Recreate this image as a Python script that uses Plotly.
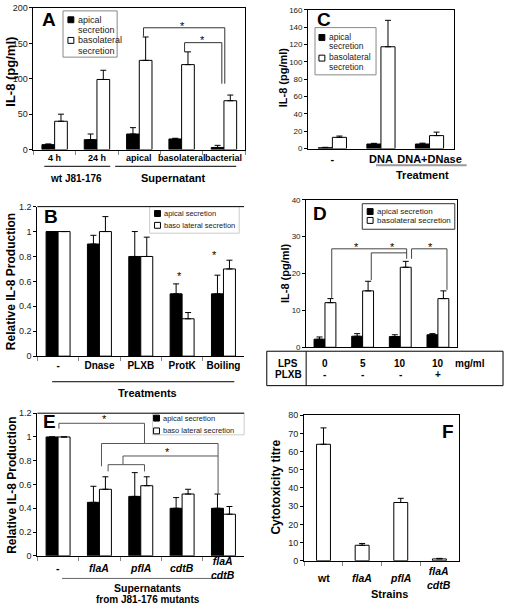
import plotly.graph_objects as go

W, H = 512, 610
FONT = "Arial, Liberation Sans, sans-serif"

# ---------------- data ----------------
A_categories = ["4 h", "24 h", "apical", "basolateral", "bacterial"]
A_apical = [7, 14, 22, 15, 3]
A_apical_err = [1, 8, 9, 1, 3]
A_baso = [40, 99, 126, 120, 69]
A_baso_err = [10, 13, 33, 18, 8]

B_categories = ["-", "Dnase", "PLXB", "ProtK", "Boiling"]
B_apical = [1.0, 0.9, 0.8, 0.5, 0.5]
B_apical_err = [0, 0.07, 0.2, 0.08, 0.15]
B_baso = [1.0, 1.0, 0.8, 0.3, 0.7]
B_baso_err = [0, 0.12, 0.155, 0.05, 0.07]

C_categories = ["-", "DNA", "DNA+DNase"]
C_apical = [1, 5.3, 5.3]
C_apical_err = [0.5, 0.8, 1.0]
C_baso = [13, 117.5, 15]
C_baso_err = [1.5, 30.5, 4]

D_categories = ["LPS 0", "LPS 5", "LPS 10", "LPS 10 + PLXB"]
D_lps = ["0", "5", "10", "10"]
D_plxb = ["-", "-", "-", "+"]
D_apical = [2.2, 3.0, 2.9, 3.4]
D_apical_err = [0.6, 0.7, 0.5, 0.3]
D_baso = [12.1, 15.3, 21.7, 13.2]
D_baso_err = [1.1, 2.6, 1.6, 2.1]

E_categories = ["-", "flaA", "pflA", "cdtB", "flaA cdtB"]
E_labels = ["-", "<i>flaA</i>", "<i>pflA</i>", "<i>cdtB</i>", "<i>flaA</i><br><i>cdtB</i>"]
E_apical = [1.0, 0.45, 0.5, 0.4, 0.4]
E_apical_err = [0, 0.135, 0.2, 0.09, 0.12]
E_baso = [1.0, 0.56, 0.59, 0.52, 0.35]
E_baso_err = [0, 0.105, 0.075, 0.04, 0.065]

F_categories = ["wt", "flaA", "pflA", "flaA cdtB"]
F_labels = ["wt", "<i>flaA</i>", "<i>pflA</i>", "<i>flaA</i><br><i>cdtB</i>"]
F_titre = [64, 8.5, 32, 1]
F_titre_err = [9, 1, 2.3, 0.3]


def X(px):
    return px / W


def Y(py):
    return 1 - py / H


fig = go.Figure()


def pair(cats, ap, ap_e, ba, ba_e, xa, ya, w):
    ax = dict(xaxis=xa, yaxis=ya, showlegend=False, width=w)
    fig.add_trace(go.Bar(x=cats, y=ap, offset=-w, marker=dict(color="black", line=dict(color="black", width=1)),
                         error_y=dict(type="data", array=ap_e, arrayminus=[0] * len(ap_e), symmetric=False,
                                      color="black", thickness=1, width=3), **ax))
    fig.add_trace(go.Bar(x=cats, y=ba, offset=0, marker=dict(color="white", line=dict(color="black", width=1)),
                         error_y=dict(type="data", array=ba_e, arrayminus=[0] * len(ba_e), symmetric=False,
                                      color="black", thickness=1, width=3), **ax))


pair(A_categories, A_apical, A_apical_err, A_baso, A_baso_err, "x", "y", 0.3)
pair(B_categories, B_apical, B_apical_err, B_baso, B_baso_err, "x2", "y2", 0.29)
pair(C_categories, C_apical, C_apical_err, C_baso, C_baso_err, "x3", "y3", 0.29)
pair(D_categories, D_apical, D_apical_err, D_baso, D_baso_err, "x4", "y4", 0.29)
pair(E_categories, E_apical, E_apical_err, E_baso, E_baso_err, "x5", "y5", 0.29)
fig.add_trace(go.Bar(x=F_categories, y=F_titre, offset=-0.18, width=0.36, xaxis="x6", yaxis="y6", showlegend=False,
                     marker=dict(color="white", line=dict(color="black", width=1)),
                     error_y=dict(type="data", array=F_titre_err, arrayminus=[0] * 4, symmetric=False,
                                  color="black", thickness=1, width=3)))


def xax(dom_px, cats, labels, anchor, mirror, size=10, ticks=True, show=True):
    return dict(domain=[X(dom_px[0]), X(dom_px[1])], anchor=anchor, type="category",
                categoryorder="array", categoryarray=cats, range=[-0.5, len(cats) - 0.5],
                tickmode="array", tickvals=cats, ticktext=["<b>%s</b>" % l for l in labels],
                tickangle=0,
                tickfont=dict(family=FONT, size=size, color="black"), showticklabels=show,
                ticks="outside" if ticks else "", tickson="boundaries", ticklen=4, tickcolor="#888",
                showline=True, linecolor="black", linewidth=1, mirror=mirror, showgrid=False,
                zeroline=False, fixedrange=True)


def yax(dom_py, rng, dtick, anchor, mirror, size=9):
    return dict(domain=[Y(dom_py[1]), Y(dom_py[0])], anchor=anchor, range=rng, dtick=dtick,
                tick0=0, ticks="outside", ticklen=3, tickcolor="black",
                tickfont=dict(family=FONT, size=size, color="#222"),
                showline=True, linecolor="black", linewidth=1, mirror=mirror, showgrid=False,
                zeroline=False, fixedrange=True)


fig.update_layout(
    width=W, height=H, margin=dict(l=0, r=0, t=0, b=0), barmode="overlay",
    paper_bgcolor="white", plot_bgcolor="white", font=dict(family=FONT),
    xaxis=xax((34, 249), A_categories, A_categories, "y", True, 9, show=False),
    yaxis=yax((3, 147), [0, 200], 50, "x", True, 9),
    xaxis2=xax((38, 248), B_categories, B_categories, "y2", False, 10),
    yaxis2=yax((205, 357), [0, 1.2], 0.2, "x2", False, 9),
    xaxis3=xax((313, 461), C_categories, C_categories, "y3", True, 11, ticks=False),
    yaxis3=yax((5, 146), [0, 160], 20, "x3", True, 8),
    xaxis4=xax((311, 464), D_categories, D_categories, "y4", True, 10, ticks=False, show=False),
    yaxis4=yax((198, 348), [0, 40], 10, "x4", True, 8),
    xaxis5=xax((38, 248), E_categories, E_labels, "y5", False, 10.5, show=False),
    yaxis5=yax((415, 560), [0, 1.2], 0.2, "x5", False, 9),
    xaxis6=xax((309, 466), F_categories, F_labels, "y6", True, 10.5, show=False),
    yaxis6=yax((417, 565), [0, 80], 10, "x6", True, 9),
)

shapes = []
ann = []


def pline(p0, p1, color="black", width=1):
    shapes.append(dict(type="line", xref="paper", yref="paper", x0=X(p0[0]), y0=Y(p0[1]),
                       x1=X(p1[0]), y1=Y(p1[1]), line=dict(color=color, width=width)))


def prect(x0, y0, x1, y1, fill="white", color="black", width=1):
    shapes.append(dict(type="rect", xref="paper", yref="paper", x0=X(x0), y0=Y(y1), x1=X(x1), y1=Y(y0),
                       fillcolor=fill, line=dict(color=color, width=width)))


def text(px, py, t, size=10, bold=True, xanchor="center", color="black", angle=0):
    ann.append(dict(xref="paper", yref="paper", x=X(px), y=Y(py), text=("<b>%s</b>" % t) if bold else t,
                    showarrow=False, xanchor=xanchor, yanchor="middle", textangle=angle,
                    font=dict(family=FONT, size=size, color=color)))


def dline(xref, yref, pts, color="black", width=1):
    for (a, b), (c, d) in zip(pts[:-1], pts[1:]):
        shapes.append(dict(type="line", xref=xref, yref=yref, x0=a, y0=b, x1=c, y1=d,
                           line=dict(color=color, width=width)))


def dtext(xref, yref, x, y, t, size=11, color="black"):
    ann.append(dict(xref=xref, yref=yref, x=x, y=y, text=t, showarrow=False, xanchor="center",
                    yanchor="middle", font=dict(family=FONT, size=size, color=color)))


def catlabels(xref, labels, py, size):
    for i, l in enumerate(labels):
        ann.append(dict(xref=xref, yref="paper", x=i, y=Y(py), text="<b>%s</b>" % l, showarrow=False,
                        xanchor="center", yanchor="middle",
                        font=dict(family=FONT, size=size, color="black")))


def legend(box, items, size=8.5, border="#888"):
    x0, y0, x1, y1 = box
    prect(x0, y0, x1, y1, fill="white", color=border)
    for (sx, sy, fill, lines) in items:
        prect(sx, sy - 3, sx + 6, sy + 3, fill=fill, color="black")
        for i, (ty, t) in enumerate(lines):
            text(sx + 8, ty, t, size=size, bold=False, xanchor="left", color="#222")


# ---- Panel A ----
text(50, 15, "A", size=19)
text(11, 68, "IL-8 (pg/ml)", size=13, angle=-90)
legend((64, 6, 119, 53), [(69, 15, "black", [(15, "apical"), (25, "secretion")]),
                         (69, 36, "white", [(36, "basolateral"), (47, "secretion")])], size=9)
dline("x", "y", [(2.1, 160), (2.1, 172), (4.02, 172), (4.02, 93)], color="#333")
dline("x", "y", [(3.07, 137.5), (3.07, 151), (3.95, 151), (3.95, 93)], color="#333")
dtext("x", "y", 3.02, 175, "*", 11)
dtext("x", "y", 3.5, 155, "*", 11)
catlabels("x", A_categories, 156, 9)
pline((45, 164), (112, 164))
pline((117, 164), (240, 164))
text(77, 176, "wt J81-176", size=10)
text(176, 176, "Supernatant", size=11)

# ---- Panel C ----
text(329, 15, "C", size=19)
text(287, 74, "IL-8 (pg/ml)", size=11, angle=-90)
legend((320, 23, 382, 71), [(324, 33, "black", [(33, "apical"), (42, "secretion")]),
                           (324, 54, "white", [(53, "basolateral"), (63, "secretion")])], size=8.5)
pline((382, 163), (474, 163), color="#999", width=2)
text(429, 173, "Treatment", size=11)

# ---- Panel B ----
text(52, 215, "B", size=19)
text(12, 281, "Relative IL-8 Production", size=12, angle=-90)
legend((152, 205, 243, 232), [(157, 212, "black", [(212, "apical secretion")]),
                             (157, 224, "white", [(224, "baso lateral secretion")])], size=7.5, border="#ccc")
pline((38, 205), (248, 205))
dtext("x2", "y2", 2.93, 0.64, "*", 11)
dtext("x2", "y2", 3.79, 0.81, "*", 11)
pline((53, 383), (238, 383))
text(150, 394, "Treatments", size=11)

# ---- Panel D ----
text(325, 212, "D", size=19)
text(289, 272, "IL-8 (pg/ml)", size=11, angle=-90)
legend((368, 202, 462, 228), [(373, 210, "black", [(210, "apical secretion")]),
                             (373, 219, "white", [(219, "basolateral secretion")])], size=8, border="#333")
dline("x4", "y4", [(0.18, 13.4), (0.18, 26.7), (2.17, 26.7), (2.17, 24.0)], color="#444")
dline("x4", "y4", [(1.23, 18.2), (1.23, 25.6), (2.17, 25.6)], color="#444")
dline("x4", "y4", [(2.3, 24.0), (2.3, 26.7), (3.24, 26.7), (3.24, 15.6)], color="#444")
dtext("x4", "y4", 0.84, 27.3, "*", 11)
dtext("x4", "y4", 1.8, 27.3, "*", 11)
dtext("x4", "y4", 2.8, 27.3, "*", 11)
prect(271, 352, 511, 387, fill="rgba(0,0,0,0)", color="black")
pline((311, 352), (311, 387))
text(293, 364, "LPS", size=10)
text(293, 376, "PLXB", size=10)
catlabels("x4", D_lps, 364, 10)
catlabels("x4", D_plxb, 376, 10)
text(477, 364, "mg/ml", size=10)

# ---- Panel E ----
text(50, 423, "E", size=19)
text(12, 488, "Relative IL-8 Production", size=12, angle=-90)
legend((155, 415, 248, 437), [(156, 420, "black", [(420, "apical secretion")]),
                             (156, 433, "white", [(433, "baso lateral secretion")])], size=7.5, border="#ccc")
pline((38, 415), (248, 415))
dline("x5", "y5", [(0.02, 1.07), (0.02, 1.115), (2.09, 1.115), (2.09, 0.945)], color="#555")
dline("x5", "y5", [(1.05, 0.753), (1.05, 0.945), (3.87, 0.945), (3.87, 0.52)], color="#555")
dline("x5", "y5", [(1.57, 0.767), (1.57, 0.84), (3.87, 0.84)], color="#555")
dline("x5", "y5", [(1.21, 0.71), (1.21, 0.767), (2.09, 0.767), (2.09, 0.71)], color="#555")
dtext("x5", "y5", 1.13, 1.15, "*", 11)
dtext("x5", "y5", 2.64, 0.87, "*", 11)
catlabels("x5", E_labels, 572, 10.5)
pline((63, 583), (235, 583), color="#666")
text(150, 593, "Supernatants", size=10.5)
text(150, 604, "from J81-176 mutants", size=10)

# ---- Panel F ----
text(455, 434, "F", size=19)
text(280, 490, "Cytotoxicity titre", size=12, angle=-90)
catlabels("x6", F_labels, 583, 10.5)
text(396, 599, "Strains", size=11)

fig.update_layout(shapes=shapes, annotations=ann)
fig.write_html("out.html", config={"displayModeBar": False},
               post_script="document.body.style.margin='0';document.body.style.overflow='hidden';")
